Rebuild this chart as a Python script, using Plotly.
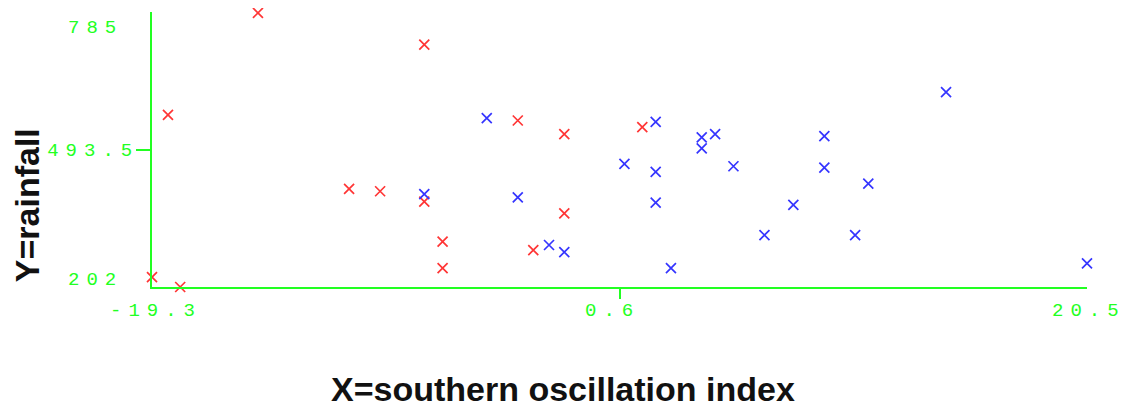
import plotly.graph_objects as go

# Data
red_x = [-19.3, -18.1, -18.62, -14.79, -10.91, -9.59, -7.71, -7.71, -6.93, -6.93,
         -3.73, -1.75, -1.75, -3.07, 1.57]
red_y = [223, 202, 567, 783, 410, 405, 716, 383, 298, 242,
         555, 526, 358, 280, 541]

blue_x = [-7.71, -5.05, -3.73, -2.40, -1.75, 0.81, 2.14, 2.14, 2.14, 2.79,
          4.10, 4.10, 4.67, 5.45, 6.77, 8.0, 9.32, 9.32, 10.63, 11.19,
          14.5, 20.5]
blue_y = [399, 560, 392, 291, 276, 463, 552, 446, 381, 242,
          519, 496, 526, 458, 312, 376, 522, 455, 312, 421,
          615, 252]

x_min, x_mid, x_max = -19.3, 0.6, 20.5
y_min, y_mid, y_max = 202, 493.5, 785
x_title = "X=southern oscillation index"
y_title = "Y=rainfall"

GREEN = "#22ff22"
RED = "#ff3535"
BLUE = "#3535ff"
MONO = "Liberation Mono, DejaVu Sans Mono, monospace"


def spaced(t):
    # widen the monospace digits like the reference, without trailing space
    return '<span style="letter-spacing:7px">' + t[:-1] + '</span>' + t[-1]


fig = go.Figure()
fig.add_trace(go.Scatter(
    x=red_x, y=red_y, mode="markers", cliponaxis=False, showlegend=False,
    marker=dict(symbol="x-thin", size=10, line=dict(color=RED, width=1.7)),
))
fig.add_trace(go.Scatter(
    x=blue_x, y=blue_y, mode="markers", cliponaxis=False, showlegend=False,
    marker=dict(symbol="x-thin", size=10, line=dict(color=BLUE, width=1.7)),
))

# page body has an 8px default margin, so the figure is 8px smaller
fig.update_layout(
    width=1118, height=399,
    margin=dict(l=144, r=39, t=4, b=120),
    paper_bgcolor="white", plot_bgcolor="white",
    xaxis=dict(range=[x_min, x_max], showgrid=False, zeroline=False,
               showline=True, linecolor=GREEN, linewidth=2,
               tickvals=[x_mid], ticktext=[""],
               ticks="outside", ticklen=10, tickwidth=2, tickcolor=GREEN),
    yaxis=dict(range=[y_min, y_max], showgrid=False, zeroline=False,
               showline=True, linecolor=GREEN, linewidth=2,
               tickvals=[y_mid], ticktext=[spaced(str(y_mid))],
               ticks="outside", ticklen=14, tickwidth=2, tickcolor=GREEN,
               tickfont=dict(family=MONO, size=19, color=GREEN)),
)

lab_font = dict(family=MONO, size=19, color=GREEN)
lab_y = -0.087
fig.add_annotation(x=x_min, y=lab_y, xref="x", yref="paper", text=spaced(str(x_min)),
                   showarrow=False, xanchor="center", yanchor="middle", font=lab_font)
fig.add_annotation(x=x_mid, y=lab_y, xref="x", yref="paper", text=spaced(str(x_mid)),
                   showarrow=False, xanchor="center", yanchor="middle", font=lab_font, xshift=-11)
fig.add_annotation(x=x_max, y=lab_y, xref="x", yref="paper", text=spaced(str(x_max)),
                   showarrow=False, xanchor="center", yanchor="middle", font=lab_font, xshift=-2)
fig.add_annotation(x=-0.036, y=y_max, xref="paper", yref="y", text=spaced(str(y_max)),
                   showarrow=False, xanchor="right", yanchor="middle", font=lab_font, yshift=-16)
fig.add_annotation(x=-0.036, y=y_min, xref="paper", yref="y", text=spaced(str(y_min)),
                   showarrow=False, xanchor="right", yanchor="middle", font=lab_font, yshift=7)

fig.add_annotation(x=0.44, y=-0.37, xref="paper", yref="paper", text="<b>" + x_title + "</b>",
                   showarrow=False, xanchor="center", yanchor="middle",
                   font=dict(family="Liberation Sans, Arial, sans-serif", size=34, color="#111111"))
fig.add_annotation(x=-0.1335, y=0.298, xref="paper", yref="paper", text="<b>" + y_title + "</b>",
                   showarrow=False, xanchor="center", yanchor="middle", textangle=-90,
                   font=dict(family="Liberation Sans, Arial, sans-serif", size=34, color="#111111"))

fig.write_html("out.html")
